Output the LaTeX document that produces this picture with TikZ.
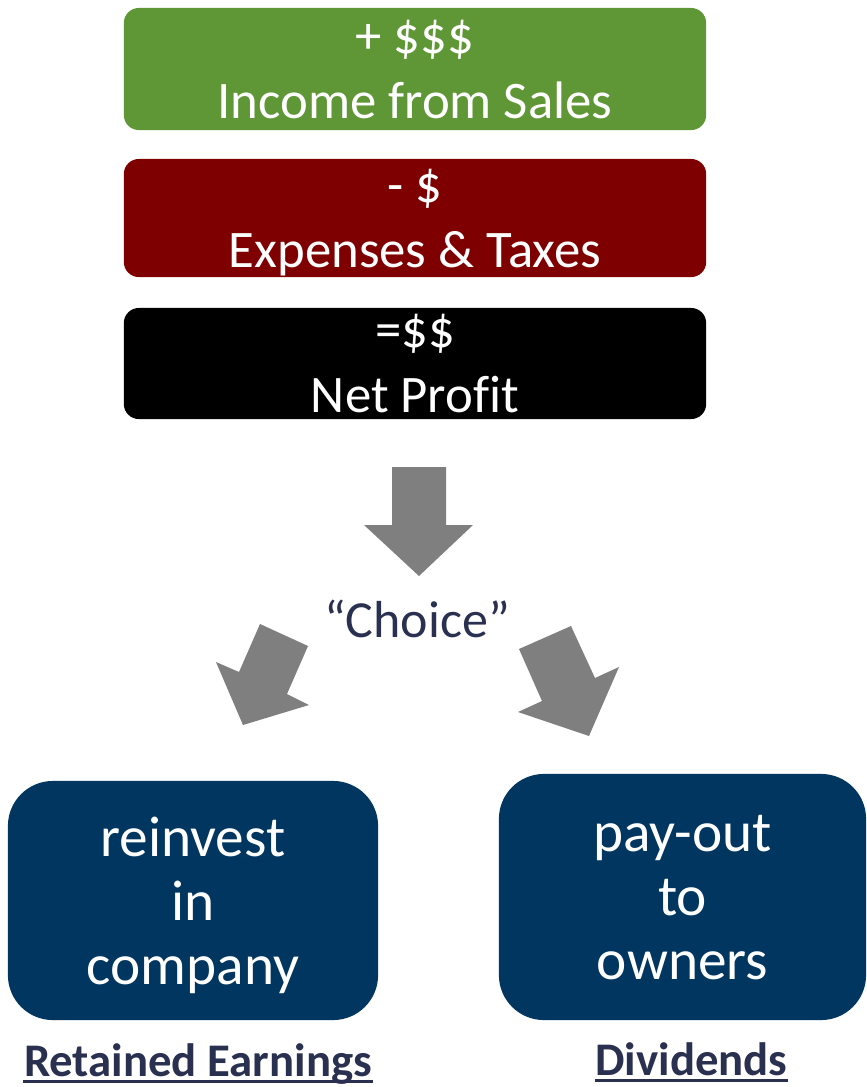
\documentclass[tikz,border=0pt]{standalone}
\usepackage{fontspec}
\setmainfont{Carlito}[Ligatures={TeX,NoCommon}]
\usepackage{xcolor}
\usepackage{tikz}

\definecolor{salesgreen}{RGB}{95,151,54}
\definecolor{costred}{RGB}{127,0,0}
\definecolor{ownerblue}{RGB}{0,54,96}
\definecolor{arrowgray}{RGB}{127,127,127}
\definecolor{labelnavy}{RGB}{42,48,80}

\begin{document}
\begin{tikzpicture}[
    x=0.01cm, y=-0.01cm,
    bar/.style={rounded corners=0.15cm, minimum width=5.82cm, inner sep=0pt,
        text depth=0pt, text=white, align=center,
        font=\fontsize{15}{18.5}\selectfont},
    choicebox/.style={rounded corners=0.45cm, fill=ownerblue, inner sep=0pt,
        text depth=0pt, text=white, align=center,
        font=\fontsize{16.3}{18.2}\selectfont},
    blockarrow/.style={fill=arrowgray},
    caption/.style={text=labelnavy, anchor=base, inner xsep=0pt,
        font=\fontsize{13.3}{15}\selectfont\bfseries},
    underline/.style={draw=labelnavy, line width=0.85pt}
]
\useasboundingbox (0,0) rectangle (867,1087);

% income statement
\node [bar, fill=salesgreen, minimum height=1.22cm] (sales) at (415,69)
    {+ \$\$\$\\Income from Sales};
\node [bar, fill=costred, minimum height=1.18cm] (costs) at (415,218)
    {- \$\\Expenses \& Taxes};
\node [bar, fill=black, minimum height=1.11cm] (profit) at (415,363.5)
    {=\$\$\\Net Profit};

% what to do with the profit
\fill [blockarrow] (392,467) -- (446,467) -- (446,525) -- (473,525)
    -- (419,576) -- (364,525) -- (392,525) -- cycle;
\node [text=labelnavy, anchor=base, font=\fontsize{14.8}{18}\selectfont]
    (choice) at (417,637) {“Choice”};
\fill [blockarrow] (260,624) -- (308,646) -- (287,694) -- (309,705)
    -- (243,725) -- (216,662) -- (239,672) -- cycle;
\fill [blockarrow] (519,649) -- (571,626) -- (595,678) -- (619,667)
    -- (589,736) -- (518,712) -- (542,701) -- cycle;

\node [choicebox, minimum width=3.70cm, minimum height=2.39cm] (reinvest)
    at (193,900.5) {reinvest\\in\\company};
\node [choicebox, minimum width=3.67cm, minimum height=2.46cm] (payout)
    at (682.5,897) {pay-out\\to\\owners};

\node [caption] (retained) at (198,1076) {Retained Earnings};
\node [caption] (dividends) at (691.5,1075) {Dividends};
\draw [underline] ([yshift=-1.6pt]retained.base west)
    -- ([yshift=-1.6pt]retained.base east);
\draw [underline] ([yshift=-1.6pt]dividends.base west)
    -- ([yshift=-1.6pt]dividends.base east);
\end{tikzpicture}
\end{document}
